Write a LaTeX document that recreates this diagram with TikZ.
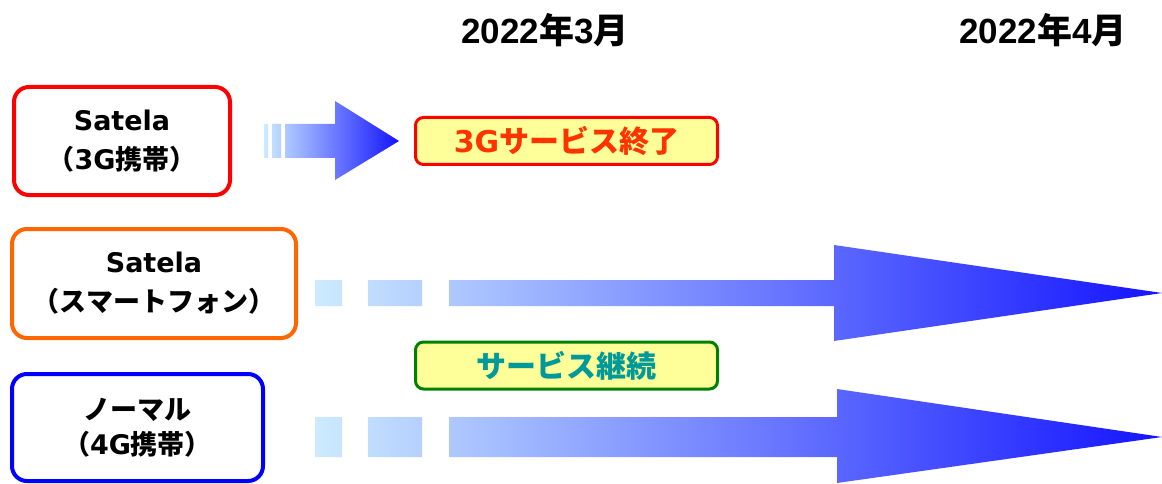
\documentclass[tikz,border=0pt]{standalone}
\usepackage{fontspec}
\setmainfont{Liberation Sans}
\newfontfamily\jp{Noto Sans CJK JP}
\newfontfamily\wl{DejaVu Sans}
\definecolor{lb}{RGB}{204,235,255}
\definecolor{mb}{RGB}{160,180,255}
\definecolor{mbt}{RGB}{150,168,255}
\definecolor{db}{RGB}{20,20,255}
\definecolor{bred}{RGB}{255,0,0}
\definecolor{borange}{RGB}{255,102,0}
\definecolor{bblue}{RGB}{0,0,255}
\definecolor{pyellow}{RGB}{255,255,153}
\definecolor{tred}{RGB}{255,51,0}
\definecolor{gborder}{RGB}{0,128,0}
\definecolor{tteal}{RGB}{0,153,153}
\tikzset{
  bigbox/.style={draw, line width=4pt, rounded corners=15pt, fill=white, align=center, inner sep=0pt,
    font=\bfseries\fontsize{27}{39}\selectfont},
  tagbox/.style={draw, line width=3pt, rounded corners=8pt, fill=pyellow, inner sep=0pt,
    minimum width=302pt, minimum height=47pt, font=\bfseries\fontsize{30}{34}\selectfont},
  datelabel/.style={inner sep=0pt, font=\bfseries\fontsize{35}{38}\selectfont},
}
\begin{document}
\begin{tikzpicture}[x=1pt,y=-1pt]
\useasboundingbox[fill=white] (0,0) rectangle (1162,484);

% date headings
\node[datelabel] (d1) at (545,30) {2022{\jp 年}3{\jp 月}};
\node[datelabel] (d2) at (1043,30) {2022{\jp 年}4{\jp 月}};

% left boxes
\node[bigbox, draw=bred, minimum width=216pt, minimum height=108pt] (b1) at (122,141)
  {{\wl Satela}\\{\jp （}{\wl 3G}{\jp 携帯）}};
\node[bigbox, draw=borange, minimum width=284pt, minimum height=109pt] (b2) at (154,283.5)
  {{\wl Satela}\\{\jp （スマートフォン）}};
\node[bigbox, draw=bblue, minimum width=251pt, minimum height=107pt,
  font=\bfseries\fontsize{27}{35}\selectfont] (b3) at (137.5,427.5)
  {{\jp ノーマル}\\{\jp （}{\wl 4G}{\jp 携帯）}};

% tags
\node[tagbox, draw=bred, text=tred] (tg1) at (566.5,141) {{\wl 3G}{\jp サービス終了}};
\node[tagbox, draw=gborder, text=tteal] (tg2) at (566.5,365.5) {{\jp サービス継続}};

% arrows
\shade[left color=lb, middle color=mbt, right color=db]
  (264,124) rectangle (268,158)
  (272,124) rectangle (281,158)
  (285,124) -- (335,124) -- (335,101) -- (399,141) -- (335,180) -- (335,158) -- (285,158) -- cycle;
\shade[left color=lb, middle color=mb, right color=db]
  (315,280) rectangle (342,306)
  (368,280) rectangle (422,306)
  (449,280) -- (834,280) -- (834,245) -- (1162,293) -- (834,341) -- (834,306) -- (449,306) -- cycle;
\shade[left color=lb, middle color=mb, right color=db]
  (315,417) rectangle (342,457)
  (368,417) rectangle (422,457)
  (449,417) -- (837,417) -- (837,389) -- (1162,437) -- (837,483) -- (837,457) -- (449,457) -- cycle;
\end{tikzpicture}
\end{document}
